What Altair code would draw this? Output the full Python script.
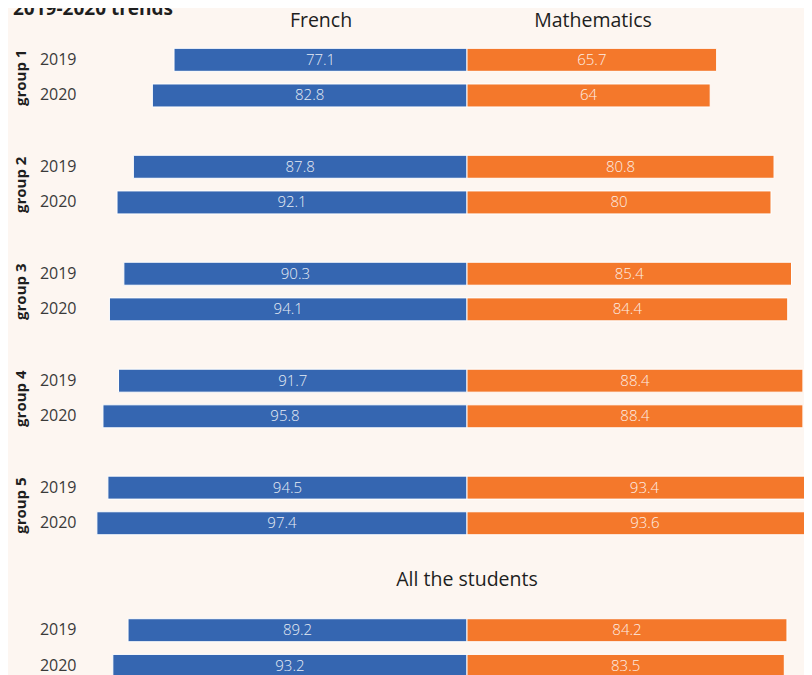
import altair as alt
import pandas as pd

# ---- data ----
title_text = "2019-2020 trends"
groups = ["group 1", "group 2", "group 3", "group 4", "group 5", "All the students"]
years = ["2019", "2020"]
subjects = ["French", "Mathematics"]
french = [77.1, 82.8, 87.8, 92.1, 90.3, 94.1, 91.7, 95.8, 94.5, 97.4, 89.2, 93.2]
maths = [65.7, 64.0, 80.8, 80.0, 85.4, 84.4, 88.4, 88.4, 93.4, 93.6, 84.2, 83.5]

BLUE = "#3566b1"
ORANGE = "#f4782b"
BG = "#fdf6f1"
FONT = "Open Sans"
DARK = "#1e1e1e"

records = []
for i, g in enumerate(groups):
    for j, y in enumerate(years):
        k = i * 2 + j
        records.append(dict(group=g, year=y, row=f"{g}|{y}", subject="French",
                            value=french[k], signed=-french[k]))
        records.append(dict(group=g, year=y, row=f"{g}|{y}", subject="Mathematics",
                            value=maths[k], signed=maths[k]))
df = pd.DataFrame(records)

# row order, with empty spacer rows between the groups
row_order = []
for i, g in enumerate(groups[:5]):
    row_order += [f"{g}|2019", f"{g}|2020", f"gap{i}"]
row_order += ["gap5", f"{groups[5]}|2019", f"{groups[5]}|2020"]

xscale = alt.Scale(domain=[-100, 100], range=[0, 760])
yscale = alt.Scale(domain=row_order, range=[0, 641.7], paddingInner=0.355, paddingOuter=0.1775)
Y = alt.Y("row:N", scale=yscale, sort=row_order,
          axis=alt.Axis(title=None, domain=False, ticks=False, labelPadding=11,
                        labelFont=FONT, labelFontSize=16, labelColor="#3a3a3a",
                        labelExpr="indexof(datum.value, '|') > 0 ? split(datum.value, '|')[1] : ''"))

base = alt.Chart(df)

bars = base.mark_bar(stroke="white", strokeWidth=1).encode(
    x=alt.X("signed:Q", scale=xscale, axis=None),
    y=Y,
    color=alt.Color("subject:N", scale=alt.Scale(domain=subjects, range=[BLUE, ORANGE]), legend=None),
)

labels = base.transform_calculate(mid="datum.signed / 2").mark_text(
    color="white", opacity=0.88, font=FONT, fontSize=15, fontWeight=300, baseline="middle"
).encode(
    x=alt.X("mid:Q", scale=xscale, axis=None),
    y=Y,
    text=alt.Text("value:Q", format=".1~f"),
)

gdf = pd.DataFrame({"group": groups[:5], "row": [f"{g}|2019" for g in groups[:5]]})
group_labels = alt.Chart(gdf).mark_text(
    angle=270, align="center", baseline="middle", dx=-18,
    font=FONT, fontSize=15, fontWeight="bold", color=DARK
).encode(x=alt.value(-66), y=Y, text="group:N")

all_df = pd.DataFrame({"label": [groups[5]], "row": ["gap5"]})
all_header = alt.Chart(all_df).mark_text(
    align="center", baseline="middle", dy=-15,
    font=FONT, fontSize=19.5, fontWeight=500, color=DARK
).encode(x=alt.datum(0, scale=xscale), y=Y, text="label:N")

hdf = pd.DataFrame({"subject": subjects})
head_fr = alt.Chart(hdf).transform_filter("datum.subject == 'French'").mark_text(
    align="center", baseline="alphabetic", font=FONT, fontSize=19.5, fontWeight=500, color=DARK
).encode(x=alt.value(234), y=alt.value(-15), text="subject:N")
head_ma = alt.Chart(hdf).transform_filter("datum.subject == 'Mathematics'").mark_text(
    align="center", baseline="alphabetic", font=FONT, fontSize=19.5, fontWeight=500, color=DARK
).encode(x=alt.value(506), y=alt.value(-15), text="subject:N")

tdf = pd.DataFrame({"t": [title_text]})
title = alt.Chart(tdf).mark_text(
    align="left", baseline="alphabetic", font=FONT, fontSize=19, fontWeight="bold", color=DARK
).encode(x=alt.value(-74), y=alt.value(-27), text="t:N")

chart = alt.layer(bars, labels, group_labels, all_header, head_fr, head_ma, title).properties(
    width=717, height=633,
    autosize=alt.AutoSizeParams(type="none"),
    padding={"left": 79, "top": 34, "right": 0, "bottom": 0},
    background=BG,
).configure_view(stroke=None)

chart.save("out.html", embed_options={"renderer": "svg", "actions": False})
